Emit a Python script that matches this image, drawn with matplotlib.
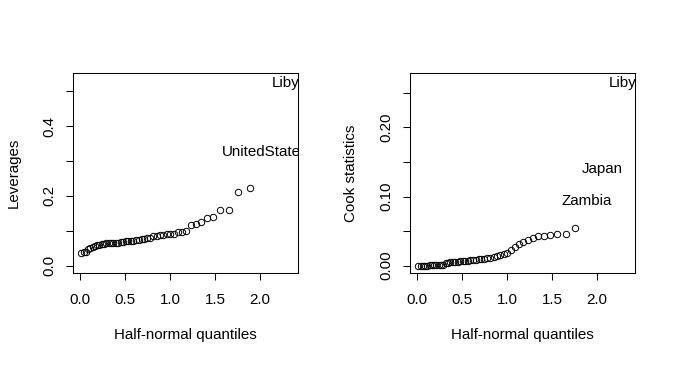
import matplotlib
matplotlib.use("Agg")
import matplotlib.pyplot as plt
from statistics import NormalDist

plt.rcParams["font.family"] = ["Liberation Sans", "DejaVu Sans"]
plt.rcParams["font.size"] = 10.9

# sorted leverages (hat values), savings data, lm(sr ~ pop15 + pop75 + dpi + ddpi)
leverages = [0.0373, 0.0390, 0.0396, 0.0479, 0.0504, 0.0542, 0.0573, 0.0601, 0.0605, 0.0608,
             0.0627, 0.0637, 0.0643, 0.0643, 0.0650, 0.0651, 0.0652, 0.0665, 0.0677, 0.0694,
             0.0696, 0.0705, 0.0715, 0.0736, 0.0746, 0.0755, 0.0773, 0.0780, 0.0794, 0.0863,
             0.0863, 0.0874, 0.0875, 0.0895, 0.0906, 0.0920, 0.0966, 0.0971, 0.0979, 0.1165,
             0.1204, 0.1240, 0.1362, 0.1408, 0.1584, 0.1608, 0.2122, 0.2233, 0.3337, 0.5315]
lev_labels = ["UnitedStates", "Libya"]

# sorted Cook statistics
cooks = [0.0000, 0.0000, 0.0000, 0.0001, 0.0001, 0.0002, 0.0003, 0.0004, 0.0006, 0.0007,
         0.0008, 0.0010, 0.0032, 0.0040, 0.0045, 0.0050, 0.0053, 0.0057, 0.0060, 0.0064,
         0.0068, 0.0072, 0.0077, 0.0081, 0.0085, 0.0089, 0.0093, 0.0100, 0.0108, 0.0115,
         0.0125, 0.0137, 0.0150, 0.0165, 0.0185, 0.0225, 0.0267, 0.0307, 0.0340, 0.0375,
         0.0399, 0.0423, 0.0433, 0.0443, 0.0452, 0.0462, 0.0543, 0.0968, 0.1427, 0.2681]
cook_labels = ["Zambia", "Japan", "Libya"]

lev_ticks = [0.0, 0.1, 0.2, 0.3, 0.4, 0.5]
lev_ticklabels = ["0.0", "", "0.2", "", "0.4", ""]
cook_ticks = [0.0, 0.05, 0.10, 0.15, 0.20, 0.25]
cook_ticklabels = ["0.00", "", "0.10", "", "0.20", ""]
x_ticks = [0.0, 0.5, 1.0, 1.5, 2.0]
x_ticklabels = ["0.0", "0.5", "1.0", "1.5", "2.0"]


def halfnorm(ax, vals, labs, ylab, yticks, yticklabels):
    n = len(vals)
    ui = [NormalDist().inv_cdf((n + i) / (2 * n + 1)) for i in range(1, n + 1)]
    nlab = len(labs)
    ax.plot(ui[:n - nlab], vals[:n - nlab], "o", ms=4.6, mfc="none", mec="black", mew=0.7)
    for x, y, s in zip(ui[n - nlab:], vals[n - nlab:], labs):
        ax.annotate(s, (x, y), xytext=(0, -4.6), textcoords="offset points",
                    ha="center", va="baseline", annotation_clip=False,
                    clip_on=True, clip_box=ax.bbox)
    rx = ui[-1] - ui[0]
    ax.set_xlim(ui[0] - 0.04 * rx, ui[-1] + 0.04 * rx)
    ymax = max(vals)
    ax.set_ylim(-0.04 * ymax, ymax * 1.04)
    ax.set_xticks(x_ticks)
    ax.set_xticklabels(x_ticklabels)
    ax.set_yticks(yticks)
    ax.set_yticklabels(yticklabels, rotation=90, va="center")
    ax.tick_params(direction="out", length=5, width=0.75)
    ax.tick_params(axis="x", pad=9.5)
    ax.tick_params(axis="y", pad=6.8)
    for sp in ax.spines.values():
        sp.set_linewidth(0.75)
    ax.set_xlabel("Half-normal quantiles", labelpad=15)
    ax.set_ylabel(ylab, labelpad=15.5)


fig = plt.figure(figsize=(6.73, 3.65), dpi=100)
ax1 = fig.add_axes([73 / 673, 1 - 273 / 365, 225 / 673, 200 / 365])
ax2 = fig.add_axes([410 / 673, 1 - 273 / 365, 225 / 673, 200 / 365])

halfnorm(ax1, leverages, lev_labels, "Leverages", lev_ticks, lev_ticklabels)
halfnorm(ax2, cooks, cook_labels, "Cook statistics", cook_ticks, cook_ticklabels)

fig.savefig("out.png", dpi=100)
